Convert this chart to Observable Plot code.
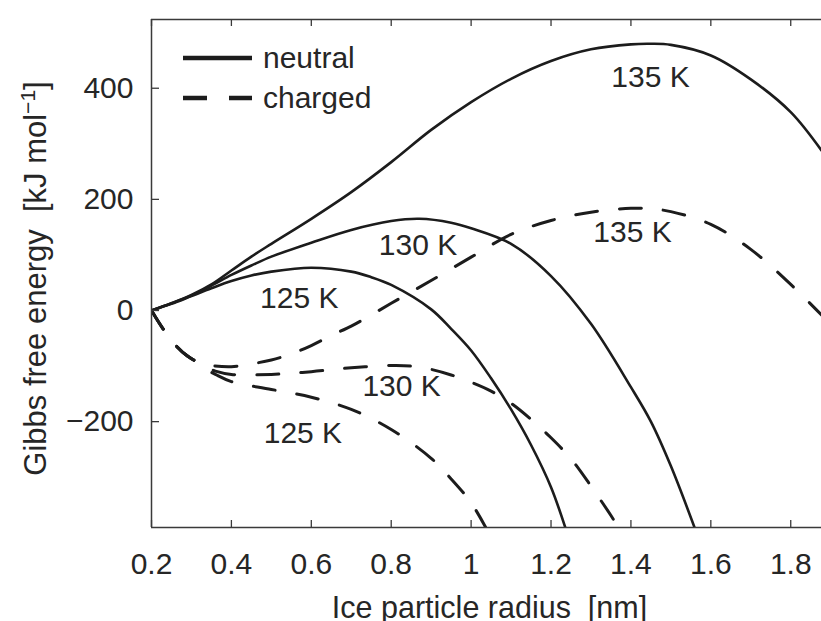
<!DOCTYPE html>
<html>
<head>
<meta charset="utf-8">
<script src="https://cdn.jsdelivr.net/npm/d3@7"></script>
<script src="https://cdn.jsdelivr.net/npm/@observablehq/plot@0.6"></script>
<style>
  html, body { margin: 0; padding: 0; background: #fff; }
  #chart { position: relative; width: 821px; height: 621px; overflow: hidden; }
  #chart svg text { white-space: pre; }
  #legend { position: absolute; left: 0; top: 0; pointer-events: none; }
</style>
</head>
<body>
<div id="chart"></div>
<script>
// Gibbs free energy of ice particle formation vs. radius, neutral and charged
const xDomain = [0.2, 1.877];
const yDomain = [-390.5, 523.7];
const xTicks = [0.2, 0.4, 0.6, 0.8, 1.0, 1.2, 1.4, 1.6, 1.8];
const xTickLabels = ["0.2", "0.4", "0.6", "0.8", "1", "1.2", "1.4", "1.6", "1.8"];
const yTicks = [-200, 0, 200, 400];
const yTickLabels = ["\u2212200", "0", "200", "400"];
const xLabel = "Ice particle radius  [nm]";
const yLabel = "Gibbs free energy  [kJ mol\u207B\u00B9]";

// neutral particles (solid)
const rNeutral135 = [0.2, 0.25, 0.3, 0.35, 0.4, 0.45, 0.5, 0.6, 0.7, 0.8, 0.9, 1.0, 1.1, 1.2, 1.3, 1.4, 1.45, 1.5, 1.6, 1.7, 1.8, 1.877];
const gNeutral135 = [0, 13, 28, 47, 72, 97, 120, 165, 213, 267, 325, 375, 417, 449, 470, 479, 480, 478, 459, 416, 357, 288];
const rNeutral130 = [0.2, 0.25, 0.3, 0.35, 0.4, 0.45, 0.5, 0.6, 0.7, 0.8, 0.87, 0.95, 1.0, 1.1, 1.2, 1.3, 1.4, 1.45, 1.5, 1.56];
const gNeutral130 = [0, 13, 27, 45, 64, 81, 97, 122, 145, 161, 165, 158, 148, 120, 62, -24, -138, -200, -280, -392];
const rNeutral125 = [0.2, 0.25, 0.3, 0.35, 0.4, 0.45, 0.5, 0.6, 0.7, 0.75, 0.8, 0.9, 0.95, 1.0, 1.05, 1.1, 1.15, 1.2, 1.24];
const gNeutral125 = [0, 12, 26, 40, 53, 63, 70, 77, 70, 60, 46, 2, -33, -72, -122, -178, -242, -318, -400];

// charged particles (dashed)
const rCharged135 = [0.2, 0.228, 0.25, 0.265, 0.29, 0.31, 0.33, 0.35, 0.4, 0.45, 0.5, 0.55, 0.6, 0.65, 0.7, 0.75, 0.8, 0.9, 1.0, 1.1, 1.2, 1.3, 1.4, 1.45, 1.5, 1.6, 1.7, 1.8, 1.877];
const gCharged135 = [0, -32, -52, -66, -82, -91, -96, -99, -101, -96, -89, -78, -63, -45, -28, -8, 13, 54, 96, 137, 162, 177, 184, 183, 178, 155, 110, 47, -8];
const rCharged130 = [0.2, 0.228, 0.25, 0.265, 0.29, 0.31, 0.33, 0.36, 0.4, 0.5, 0.6, 0.7, 0.8, 0.85, 0.9, 0.95, 1.0, 1.05, 1.1, 1.15, 1.2, 1.25, 1.3, 1.35, 1.375];
const gCharged130 = [0, -32, -52, -66, -82, -91, -100, -109, -115, -115, -110, -103, -99, -100, -106, -116, -129, -145, -167, -196, -229, -267, -316, -369, -398];
const rCharged125 = [0.2, 0.228, 0.25, 0.265, 0.29, 0.31, 0.33, 0.36, 0.4, 0.5, 0.6, 0.7, 0.8, 0.9, 0.95, 1.0, 1.04];
const gCharged125 = [0, -32, -52, -66, -82, -91, -103, -115, -128, -142, -156, -178, -214, -266, -303, -346, -395];

// curve annotations
const annText = ["135 K", "135 K", "130 K", "125 K", "130 K", "125 K"];
const annX = [1.449, 1.404, 0.867, 0.570, 0.826, 0.579];
const annY = [419, 140, 117, 22, -137, -222];

// legend
const legendLabels = ["neutral", "charged"];

const series = [
  {state: "neutral", temp: "135 K", r: rNeutral135, g: gNeutral135},
  {state: "neutral", temp: "130 K", r: rNeutral130, g: gNeutral130},
  {state: "neutral", temp: "125 K", r: rNeutral125, g: gNeutral125},
  {state: "charged", temp: "135 K", r: rCharged135, g: gCharged135},
  {state: "charged", temp: "130 K", r: rCharged130, g: gCharged130},
  {state: "charged", temp: "125 K", r: rCharged125, g: gCharged125}
];
const rows = series.flatMap(s => s.r.map((r, i) => ({state: s.state, temp: s.temp, r, g: s.g[i]})));
const annotations = annText.map((t, i) => ({t, x: annX[i], y: annY[i]}));

const marginLeft = 151, marginRight = 0, marginTop = 19, marginBottom = 94;
const width = 821, height = 621;
const frameW = width - marginLeft - marginRight;
const frameH = height - marginTop - marginBottom;
const ink = "#1c1c1c";
const axisInk = "#3a3a3a";
const textInk = "#262626";
const tickLen = 7;

const chart = Plot.plot({
  width, height, marginLeft, marginRight, marginTop, marginBottom,
  x: {domain: xDomain},
  y: {domain: yDomain},
  style: {fontFamily: "'Liberation Sans', Arial, Helvetica, sans-serif", fontSize: "30px", color: textInk, background: "#fff"},
  marks: [
    Plot.line(rows.filter(d => d.state === "neutral"), {x: "r", y: "g", z: "temp", stroke: ink, strokeWidth: 2.6, curve: "catmull-rom", clip: true}),
    Plot.line(rows.filter(d => d.state === "charged"), {x: "r", y: "g", z: "temp", stroke: ink, strokeWidth: 3, strokeDasharray: "22,22", curve: "catmull-rom", clip: true}),
    // box: left, bottom and top edges
    Plot.ruleX([xDomain[0]], {stroke: axisInk, strokeWidth: 1.5}),
    Plot.ruleY(yDomain, {stroke: axisInk, strokeWidth: 1.5}),
    // inward tick marks
    Plot.tickX(xTicks, {x: d => d, insetTop: frameH - tickLen, stroke: axisInk, strokeWidth: 1.3}),
    Plot.tickX(xTicks, {x: d => d, insetBottom: frameH - tickLen, stroke: axisInk, strokeWidth: 1.3}),
    Plot.tickY(yTicks, {y: d => d, insetRight: frameW - tickLen - 1, stroke: axisInk, strokeWidth: 1.3}),
    Plot.axisX({ticks: xTicks, tickSize: 0, tickPadding: 25, label: null, fontSize: 30, tickFormat: (d, i) => xTickLabels[i]}),
    Plot.axisY({ticks: yTicks, tickSize: 0, tickPadding: 18, label: null, fontSize: 30, tickFormat: (d, i) => yTickLabels[i]}),
    Plot.text([xLabel], {frameAnchor: "bottom", textAnchor: "middle", lineAnchor: "bottom", dx: 3, dy: 90, fontSize: 30.5, fill: textInk}),
    Plot.text([yLabel], {frameAnchor: "left", textAnchor: "middle", lineAnchor: "bottom", rotate: -90, dx: -106, dy: 5, fontSize: 31, fill: textInk}),
    Plot.text(annotations, {x: "x", y: "y", text: "t", lineAnchor: "middle", fontSize: 30, fill: textInk})
  ]
});

document.getElementById("chart").appendChild(chart);

// superscript for the unit in the y label
d3.select(chart).selectAll("text").filter(function () { return this.textContent === yLabel; })
  .each(function () {
    const t = d3.select(this);
    t.text(null);
    t.append("tspan").text("Gibbs free energy  [kJ mol");
    t.append("tspan").attr("baseline-shift", "super").attr("font-size", "21px").text("\u22121");
    t.append("tspan").text("]");
  });

// legend in the upper left of the plot area
const legend = d3.select("#chart").append("svg")
  .attr("id", "legend").attr("width", width).attr("height", 140);
legendLabels.forEach((label, i) => {
  const y = 58 + i * 40;
  legend.append("line")
    .attr("x1", 183).attr("x2", 252).attr("y1", y).attr("y2", y)
    .attr("stroke", ink).attr("stroke-width", 4.5)
    .attr("stroke-dasharray", label === "charged" ? "24,22" : null);
  legend.append("text")
    .attr("x", 263).attr("y", y + 9.5)
    .attr("font-family", "'Liberation Sans', Arial, Helvetica, sans-serif")
    .attr("font-size", 30).attr("fill", textInk)
    .text(label);
});
</script>
</body>
</html>
